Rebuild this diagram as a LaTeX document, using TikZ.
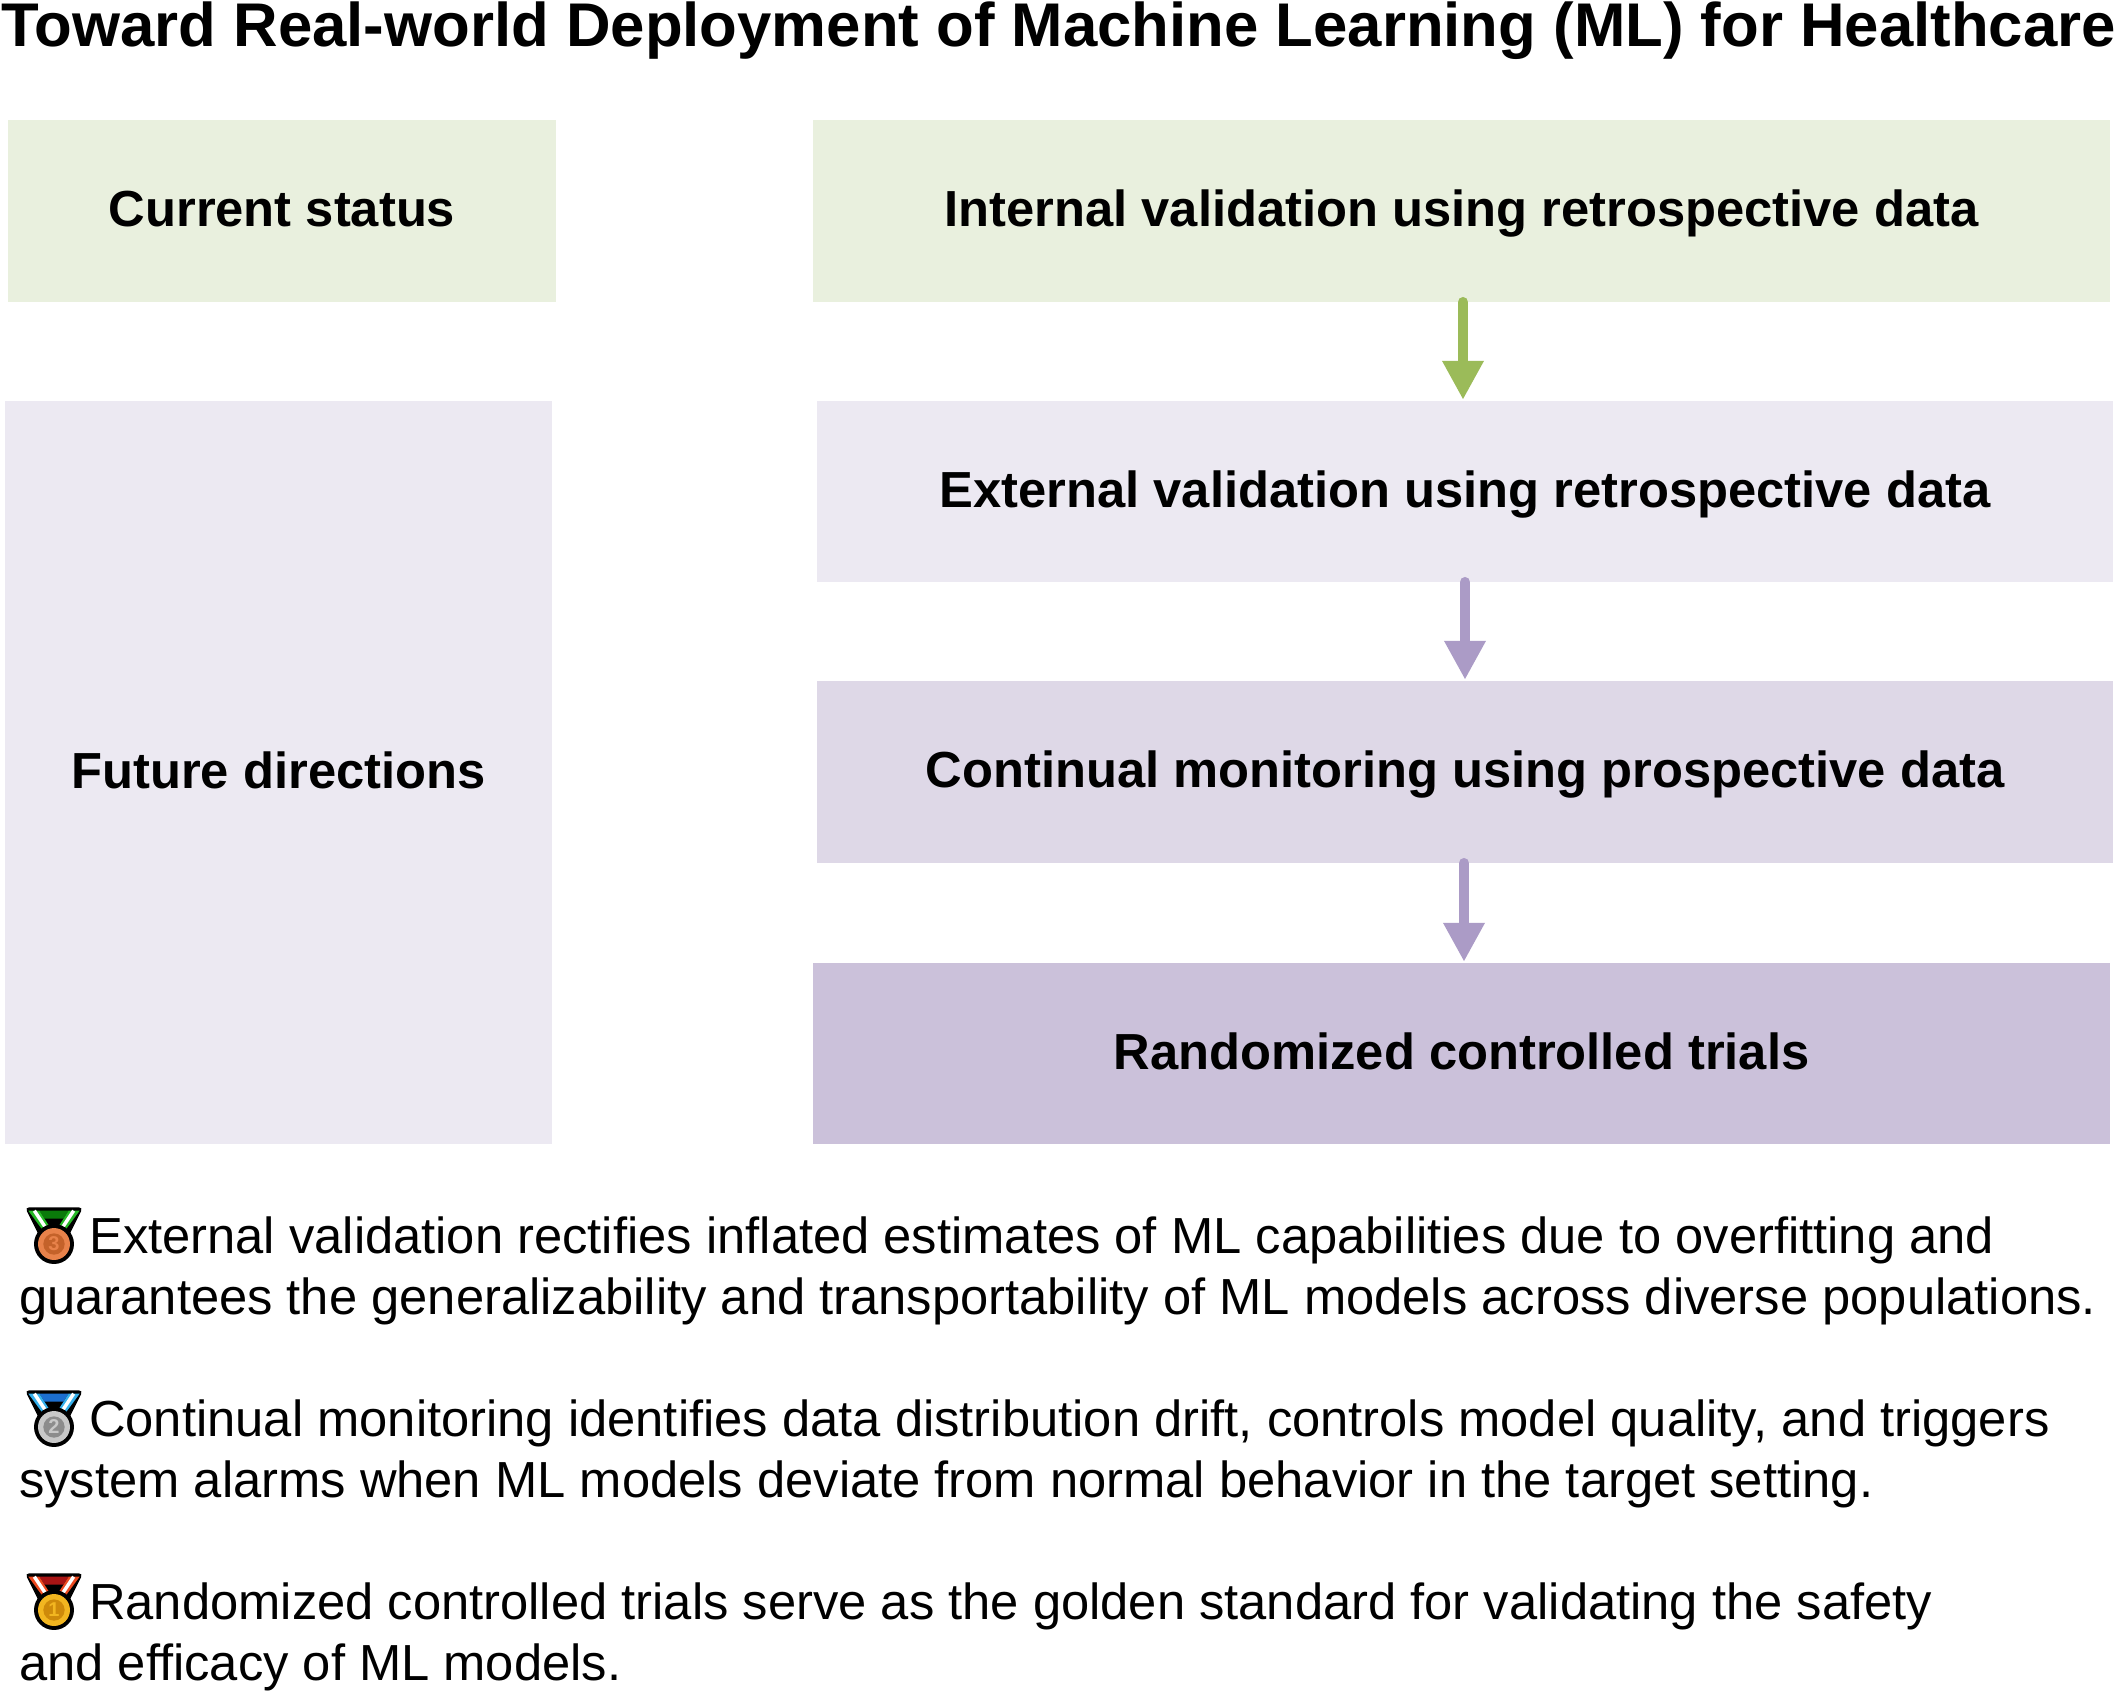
\documentclass[tikz,border=0pt]{standalone}
\usepackage{fontspec}
\setmainfont{Liberation Sans}
\usetikzlibrary{arrows.meta}

\definecolor{boxgreen}{HTML}{E9F0DE}
\definecolor{boxlight}{HTML}{ECE9F2}
\definecolor{boxmid}{HTML}{DED8E7}
\definecolor{boxdark}{HTML}{CBC1DA}
\definecolor{arrowgreen}{HTML}{9BBB59}
\definecolor{arrowpurple}{HTML}{AB9BC6}
\definecolor{greenlight}{HTML}{25B825}
\definecolor{greendark}{HTML}{0A7A0A}
\definecolor{bluelight}{HTML}{35B0EC}
\definecolor{bluedark}{HTML}{1C6FD0}
\definecolor{redlight}{HTML}{EC4A20}
\definecolor{reddark}{HTML}{A81414}
\definecolor{bronzeface}{HTML}{E8824A}
\definecolor{bronzedisc}{HTML}{C4622A}
\definecolor{silverface}{HTML}{C8C8C8}
\definecolor{silverdisc}{HTML}{8C8C8C}
\definecolor{goldface}{HTML}{F2B620}
\definecolor{golddisc}{HTML}{CE8A0A}

% center y, light ribbon, dark ribbon, medal, inner disc, digit
\newcommand{\medalicon}[6]{
\begin{scope}[shift={(54,#1)},x=.333pt,y=-.333pt]
\fill[black,rounded corners=4pt] (-87,-110) -- (87,-110) -- (42,-20) -- (-42,-20) -- cycle;
\fill[#3] (-44,-100) -- (44,-100) -- (28,-76) -- (-28,-76) -- cycle;
\fill[#2] (-77,-100) -- (-44,-100) -- (-8,-44) -- (-30,-36) -- cycle;
\fill[#2] (77,-100) -- (44,-100) -- (8,-44) -- (30,-36) -- cycle;
\draw[white,line width=3.5pt] (-59,-100) -- (-19,-40);
\draw[white,line width=3.5pt] (59,-100) -- (19,-40);
\fill[black] (0,0) circle (60);
\fill[#4] (0,0) circle (48);
\fill[#5] (0,0) circle (32);
\node[inner sep=0,text=#4,font=\fontsize{20}{20}\bfseries\selectfont] (digit#6) at (0,0) {#6};
\end{scope}
}

\begin{document}
\begin{tikzpicture}[x=1pt,y=-1pt,shorten >=1pt]
\tikzset{
  stagebox/.style={inner sep=0,text height=31.5pt,text depth=0pt,font=\fontsize{50.7}{58}\bfseries\selectfont},
  flowarrow/.style={line width=10.5pt,line cap=round,-{Triangle[length=39pt,width=39pt]}},
  notetext/.style={anchor=north west,inner sep=0,align=left,font=\fontsize{50.7}{61}\selectfont}
}
\useasboundingbox (0,0) rectangle (2118,1694);

\node[anchor=base west,inner sep=0,font=\fontsize{61.7}{70}\bfseries\selectfont] (title) at (1.5,47) {Toward Real-world Deployment of Machine Learning (ML) for Healthcare};

\node[stagebox,fill=boxgreen,minimum width=548pt,minimum height=182pt] (current) at (282,211) {Current status};
\node[stagebox,fill=boxlight,minimum width=547pt,minimum height=743pt] (future) at (278.5,772.5) {Future directions};

\node[stagebox,fill=boxgreen,minimum width=1297pt,minimum height=182pt] (internal) at (1461.5,211) {Internal validation using retrospective data};
\node[stagebox,fill=boxlight,minimum width=1296pt,minimum height=181pt] (external) at (1465,491.5) {External validation using retrospective data};
\node[stagebox,fill=boxmid,minimum width=1296pt,minimum height=182pt] (monitoring) at (1465,772) {Continual monitoring using prospective data};
\node[stagebox,fill=boxdark,minimum width=1297pt,minimum height=181pt] (trials) at (1461.5,1053.5) {Randomized controlled trials};

\draw[flowarrow,arrowgreen] ([xshift=1.5pt]internal.south) -- ([xshift=-2pt]external.north);
\draw[flowarrow,arrowpurple] (external.south) -- (monitoring.north);
\draw[flowarrow,arrowpurple] ([xshift=-1pt]monitoring.south) -- ([xshift=2.5pt]trials.north);

\medalicon{1244}{greenlight}{greendark}{bronzeface}{bronzedisc}{3}
\medalicon{1427}{bluelight}{bluedark}{silverface}{silverdisc}{2}
\medalicon{1610}{redlight}{reddark}{goldface}{golddisc}{1}

\node[notetext] (note1) at (19,1211) {\strut\hspace{70pt}External validation rectifies inflated estimates of ML capabilities due to overfitting and\\guarantees the generalizability and transportability of ML models across diverse populations.};
\node[notetext] (note2) at (19,1393.5) {\strut\hspace{70pt}Continual monitoring identifies data distribution drift, controls model quality, and triggers\\system alarms when ML models deviate from normal behavior in the target setting.};
\node[notetext] (note3) at (19,1576.5) {\strut\hspace{70pt}Randomized controlled trials serve as the golden standard for validating the safety\\and efficacy of ML models.};

\end{tikzpicture}
\end{document}
